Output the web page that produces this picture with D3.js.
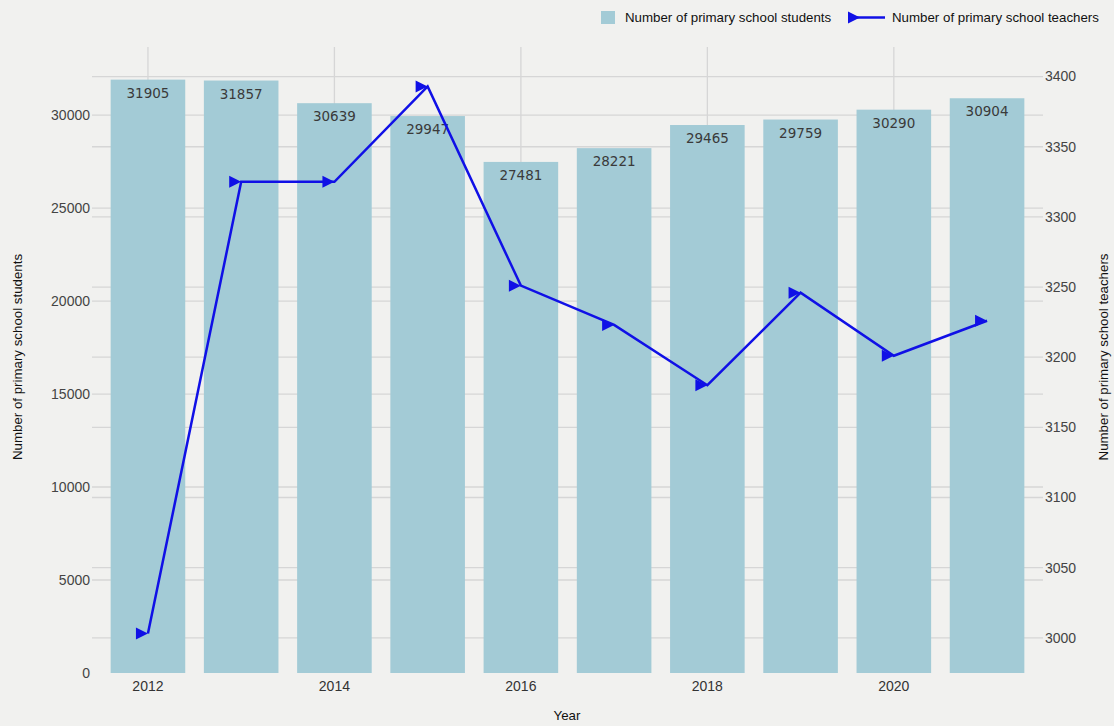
<!DOCTYPE html>
<html>
<head>
<meta charset="utf-8">
<script src="https://cdn.jsdelivr.net/npm/d3@7/dist/d3.min.js"></script>
<style>
  html, body { margin: 0; padding: 0; background: #f1f1ef; }
  svg { display: block; }
</style>
</head>
<body>
<svg id="chart" width="1114" height="726"></svg>
<script>
const years = [2012, 2013, 2014, 2015, 2016, 2017, 2018, 2019, 2020, 2021];
const students = [31905, 31857, 30639, 29947, 27481, 28221, 29465, 29759, 30290, 30904];
const teachers = [3003, 3325, 3325, 3393, 3251, 3223, 3180, 3246, 3201, 3226];
const xTickYears = [2012, 2014, 2016, 2018, 2020];
const leftTicks = [0, 5000, 10000, 15000, 20000, 25000, 30000];
const rightTicks = [3000, 3050, 3100, 3150, 3200, 3250, 3300, 3350, 3400];

(function () {
const svg = d3.select("#chart");
const pL = 92, pR = 1043, pT = 47, pB = 673;
const font = "'Liberation Sans', Arial, sans-serif";

const x = d3.scaleBand().domain(years).range([pL, pR]).paddingInner(0.2).paddingOuter(0.2);
const yL = d3.scaleLinear().domain([0, d3.max(students) * 1.055]).range([pB, pT]);
const tMin = d3.min(teachers), tMax = d3.max(teachers), tPad = (tMax - tMin) * 0.072;
const yR = d3.scaleLinear().domain([tMin - tPad, tMax + tPad]).range([pB, pT]);
const cx = d => x(d) + x.bandwidth() / 2;

const grid = svg.append("g");
grid.selectAll("line.v").data(xTickYears).join("line")
  .attr("x1", cx).attr("x2", cx)
  .attr("y1", pT).attr("y2", pB).attr("stroke", "#d6d6d6").attr("stroke-width", 1.3);
grid.selectAll("line.l").data(leftTicks.filter(d => d > 0)).join("line")
  .attr("x1", pL).attr("x2", pR).attr("y1", d => yL(d)).attr("y2", d => yL(d))
  .attr("stroke", "#d6d6d6").attr("stroke-width", 1.3);
grid.selectAll("line.r").data(rightTicks).join("line")
  .attr("x1", pL).attr("x2", pR).attr("y1", d => yR(d)).attr("y2", d => yR(d))
  .attr("stroke", "#d6d6d6").attr("stroke-width", 1.3);

svg.append("g").selectAll("rect").data(years).join("rect")
  .attr("x", d => x(d)).attr("width", x.bandwidth())
  .attr("y", (d, i) => yL(students[i])).attr("height", (d, i) => pB - yL(students[i]))
  .attr("fill", "#a3cbd6");

svg.append("g").selectAll("text").data(years).join("text")
  .attr("x", cx)
  .attr("y", (d, i) => yL(students[i]) + 18)
  .attr("text-anchor", "middle")
  .attr("font-family", "'DejaVu Sans', Verdana, sans-serif")
  .attr("font-size", 13.5).attr("fill", "#3a3a3a")
  .text((d, i) => students[i]);

const line = d3.line().x((d, i) => cx(years[i])).y(d => yR(d));
svg.append("path").datum(teachers).attr("d", line)
  .attr("fill", "none").attr("stroke", "#1010e6").attr("stroke-width", 2.5);

const tri = "M0,0 L-12,-6 L-12,6 Z";
svg.append("g").selectAll("path").data(teachers).join("path")
  .attr("d", tri)
  .attr("transform", (d, i) => `translate(${cx(years[i])},${yR(d)})`)
  .attr("fill", "#1010e6");

svg.append("g").selectAll("text").data(leftTicks).join("text")
  .attr("x", pL - 2).attr("y", d => yL(d)).attr("dy", "0.35em")
  .attr("text-anchor", "end").attr("font-family", font).attr("font-size", 14).attr("fill", "#444")
  .text(d => d);

svg.append("g").selectAll("text").data(rightTicks).join("text")
  .attr("x", pR + 2).attr("y", d => yR(d)).attr("dy", "0.35em")
  .attr("text-anchor", "start").attr("font-family", font).attr("font-size", 14).attr("fill", "#444")
  .text(d => d);

svg.append("g").selectAll("text").data(xTickYears).join("text")
  .attr("x", cx).attr("y", 686).attr("dy", "0.35em")
  .attr("text-anchor", "middle").attr("font-family", font).attr("font-size", 14).attr("fill", "#333")
  .text(d => d);

svg.append("text").attr("x", 567).attr("y", 715).attr("dy", "0.35em").attr("text-anchor", "middle")
  .attr("font-family", font).attr("font-size", 13.3).attr("fill", "#111").text("Year");
svg.append("text").attr("transform", "translate(17,357) rotate(-90)").attr("dy", "0.35em")
  .attr("text-anchor", "middle").attr("font-family", font).attr("font-size", 13.3).attr("fill", "#111")
  .text("Number of primary school students");
svg.append("text").attr("transform", "translate(1103,357) rotate(-90)").attr("dy", "0.35em")
  .attr("text-anchor", "middle").attr("font-family", font).attr("font-size", 13.3).attr("fill", "#111")
  .text("Number of primary school teachers");

const lg = svg.append("g");
lg.append("rect").attr("x", 601).attr("y", 11).attr("width", 14).attr("height", 13).attr("fill", "#a3cbd6");
lg.append("text").attr("x", 625).attr("y", 17.5).attr("dy", "0.35em").attr("font-family", font)
  .attr("font-size", 13.3).attr("fill", "#111").text("Number of primary school students");
lg.append("line").attr("x1", 848).attr("x2", 885).attr("y1", 17.5).attr("y2", 17.5)
  .attr("stroke", "#1010e6").attr("stroke-width", 2.5);
lg.append("path").attr("d", tri).attr("transform", "translate(860,17.5)").attr("fill", "#1010e6");
lg.append("text").attr("x", 892).attr("y", 17.5).attr("dy", "0.35em").attr("font-family", font)
  .attr("font-size", 13.3).attr("fill", "#111").text("Number of primary school teachers");
})();
</script>
</body>
</html>
